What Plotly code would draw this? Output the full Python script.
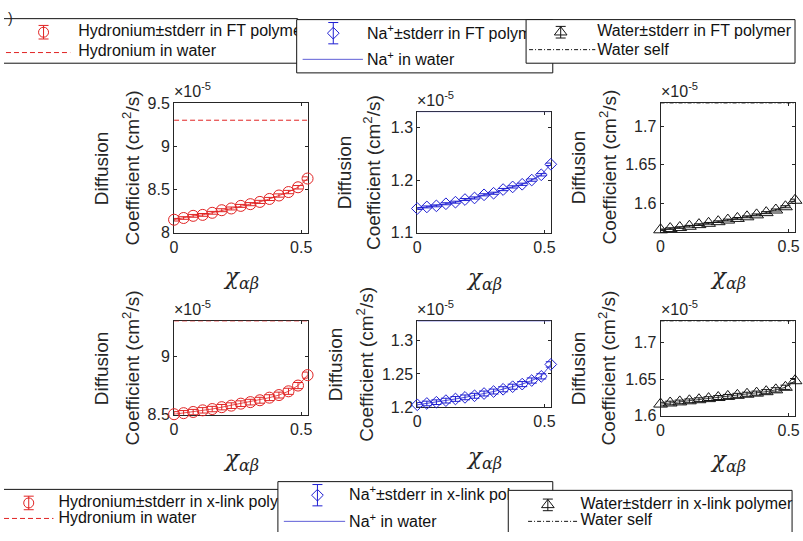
import plotly.graph_objects as go

W, H = 803, 541

# Flory-Huggins interaction parameter
chi = [0.0, 0.0375, 0.075, 0.1125, 0.15, 0.1875, 0.225, 0.2625,
       0.3, 0.3375, 0.375, 0.4125, 0.45, 0.4875, 0.525]

# Diffusion coefficients in units of 1e-5 cm^2/s
hyd_ft = [8.150, 8.170, 8.195, 8.206, 8.230, 8.260, 8.280, 8.310,
          8.330, 8.356, 8.390, 8.430, 8.470, 8.525, 8.626]
hyd_ft_err = [0.015, 0.015, 0.016, 0.016, 0.016, 0.017, 0.017, 0.017,
              0.018, 0.018, 0.018, 0.019, 0.019, 0.020, 0.020]
na_ft = [1.146, 1.149, 1.151, 1.155, 1.158, 1.163, 1.166, 1.172,
         1.175, 1.182, 1.187, 1.192, 1.200, 1.210, 1.230]
na_ft_err = [0.0018, 0.0018, 0.0018, 0.0019, 0.0019, 0.0019, 0.0020, 0.0020,
             0.0020, 0.0021, 0.0021, 0.0021, 0.0022, 0.0022, 0.0023]
water_ft = [1.5660, 1.5676, 1.5689, 1.5706, 1.5727, 1.5744, 1.5765, 1.5786,
            1.5807, 1.5828, 1.5853, 1.5882, 1.5916, 1.5958, 1.6042]
water_ft_err = [0.0010, 0.0010, 0.0010, 0.0011, 0.0011, 0.0011, 0.0011, 0.0012,
                0.0012, 0.0012, 0.0012, 0.0013, 0.0013, 0.0013, 0.0014]

hyd_xl = [8.505, 8.514, 8.524, 8.538, 8.549, 8.565, 8.578, 8.595,
          8.608, 8.624, 8.646, 8.668, 8.700, 8.749, 8.838]
hyd_xl_err = [0.022, 0.022, 0.022, 0.023, 0.023, 0.023, 0.024, 0.024,
              0.024, 0.025, 0.025, 0.025, 0.026, 0.026, 0.026]
na_xl = [1.2034, 1.2054, 1.2073, 1.2097, 1.2122, 1.2146, 1.2170, 1.2204,
         1.2234, 1.2268, 1.2307, 1.2346, 1.2400, 1.2463, 1.2643]
na_xl_err = [0.0035, 0.0035, 0.0035, 0.0036, 0.0036, 0.0036, 0.0037, 0.0037,
             0.0037, 0.0038, 0.0038, 0.0038, 0.0039, 0.0039, 0.0040]
water_xl = [1.6160, 1.6175, 1.6190, 1.6205, 1.6220, 1.6235, 1.6250, 1.6265,
            1.6280, 1.6295, 1.6310, 1.6330, 1.6355, 1.6390, 1.6480]
water_xl_err = [0.0025, 0.0025, 0.0025, 0.0026, 0.0026, 0.0026, 0.0027, 0.0027,
                0.0027, 0.0028, 0.0028, 0.0028, 0.0029, 0.0029, 0.0030]

# Reference values (bulk water)
hyd_water = 9.3
na_water = 1.33
water_self = 1.73

x_ticks = [0, 0.5]
x_tick_text = ["0", "0.5"]

RED = "rgb(225,35,35)"
BLUE = "rgb(30,30,210)"
BLUE_LIGHT = "rgb(95,95,215)"
BLACK = "rgb(20,20,20)"
AXC = "#262626"
SANS = "Liberation Sans, Arial, sans-serif"
SERIF = "DejaVu Serif, Liberation Serif, serif"

# panel layout in pixel coordinates: box (left, right), (top, bottom)
panels = [
    dict(y=hyd_ft, err=hyd_ft_err, ref=hyd_water, color=RED, symbol="circle-open", size=11,
         refdash="5px,3px", refcolor=RED, xpx=(172, 307), ypx=(98, 232), yr=[8.0, 9.5],
         yt=[8, 8.5, 9, 9.5], ytt=["8", "8.5", "9", "9.5"],
         lab=(98.5, 128), xlab=279),
    dict(y=na_ft, err=na_ft_err, ref=na_water, color=BLUE, symbol="diamond-open", size=9,
         refdash="solid", refcolor=BLUE_LIGHT, xpx=(418, 553), ypx=(107, 232), yr=[1.1, 1.33],
         yt=[1.1, 1.2, 1.3], ytt=["1.1", "1.2", "1.3"],
         lab=(344, 372), xlab=280),
    dict(y=water_ft, err=water_ft_err, ref=water_self, color=BLACK, symbol="triangle-up-open", size=12,
         refdash="4px,2px,1px,2px", refcolor=BLACK, xpx=(664, 800), ypx=(98, 231), yr=[1.5635, 1.73],
         yt=[1.6, 1.65, 1.7], ytt=["1.6", "1.65", "1.7"],
         lab=(580.5, 611), xlab=279),
    dict(y=hyd_xl, err=hyd_xl_err, ref=hyd_water, color=RED, symbol="circle-open", size=11,
         refdash="5px,3px", refcolor=RED, xpx=(172, 307), ypx=(323, 420), yr=[8.5, 9.3],
         yt=[8.5, 9], ytt=["8.5", "9"],
         lab=(98.5, 128), xlab=467),
    dict(y=na_xl, err=na_xl_err, ref=na_water, color=BLUE, symbol="diamond-open", size=9,
         refdash="solid", refcolor=BLUE_LIGHT, xpx=(418, 553), ypx=(323, 412), yr=[1.2, 1.33],
         yt=[1.2, 1.25, 1.3], ytt=["1.2", "1.25", "1.3"],
         lab=(336, 365), xlab=465),
    dict(y=water_xl, err=water_xl_err, ref=water_self, color=BLACK, symbol="triangle-up-open", size=12,
         refdash="4px,2px,1px,2px", refcolor=BLACK, xpx=(664, 800), ypx=(323, 421), yr=[1.6, 1.73],
         yt=[1.6, 1.65, 1.7], ytt=["1.6", "1.65", "1.7"],
         lab=(580.5, 610), xlab=468),
]

fig = go.Figure()
annotations = []


def px_x(v):
    return v / W


def px_y(v):
    return 1 - v / H


for i, p in enumerate(panels, start=1):
    xa = "x" if i == 1 else f"x{i}"
    ya = "y" if i == 1 else f"y{i}"
    # bulk-water reference line
    fig.add_trace(go.Scatter(
        x=[chi[0], chi[-1]], y=[p["ref"], p["ref"]], xaxis=xa, yaxis=ya, mode="lines",
        line=dict(color=p["refcolor"], width=1, dash=p["refdash"]),
        cliponaxis=False, showlegend=False, hoverinfo="skip"))
    # simulation values with standard error
    fig.add_trace(go.Scatter(
        x=chi, y=p["y"], xaxis=xa, yaxis=ya, mode="lines+markers",
        line=dict(color=p["color"], width=0.8),
        marker=dict(symbol=p["symbol"], size=p["size"], color=p["color"],
                    line=dict(width=1, color=p["color"])),
        error_y=dict(type="data", array=p["err"], visible=True, color=p["color"],
                     thickness=1, width=5),
        cliponaxis=False, showlegend=False))

    ax_common = dict(showline=True, linecolor=AXC, linewidth=1, mirror="ticks",
                     ticks="inside", ticklen=3, tickcolor=AXC, showgrid=False,
                     zeroline=False, layer="below traces",
                     tickfont=dict(family=SANS, size=16, color=AXC))
    fig.layout[f"xaxis{'' if i == 1 else i}"] = dict(
        domain=[px_x(p["xpx"][0]), px_x(p["xpx"][1])], range=[chi[0], chi[-1]],
        anchor=ya, tickmode="array", tickvals=x_ticks, ticktext=x_tick_text, **ax_common)
    fig.layout[f"yaxis{'' if i == 1 else i}"] = dict(
        domain=[px_y(p["ypx"][1]), px_y(p["ypx"][0])], range=p["yr"],
        anchor=xa, tickmode="array", tickvals=p["yt"], ticktext=p["ytt"], **ax_common)

    yc = px_y((p["ypx"][0] + p["ypx"][1]) / 2)
    xc = px_x((p["xpx"][0] + p["xpx"][1]) / 2)
    annotations.append(dict(x=px_x(p["lab"][0]), y=yc, xref="paper", yref="paper",
                            xanchor="center", yanchor="middle",
                            text="Diffusion", textangle=-90, showarrow=False,
                            font=dict(family=SANS, size=19, color=AXC)))
    annotations.append(dict(x=px_x(p["lab"][1]), y=yc, xref="paper", yref="paper",
                            xanchor="center", yanchor="middle",
                            text="Coefficient (cm<sup>2</sup>/s)", textangle=-90, showarrow=False,
                            font=dict(family=SANS, size=19, color=AXC)))
    annotations.append(dict(x=xc, y=px_y(p["xlab"]), xref="paper", yref="paper",
                            xanchor="center", yanchor="middle",
                            text="<i>χ</i><sub><i>αβ</i></sub>", showarrow=False,
                            font=dict(family=SERIF, size=23, color=AXC)))
    annotations.append(dict(x=px_x(p["xpx"][0] - 2), y=px_y(p["ypx"][0] - 1), xref="paper",
                            yref="paper", xanchor="left", yanchor="bottom",
                            text="×10<sup>-5</sup>", showarrow=False,
                            font=dict(family=SANS, size=16, color=AXC)))

# closing bracket of the panel tag at the top-left corner
annotations.append(dict(x=px_x(2), y=1.0, xref="paper", yref="paper",
                        xanchor="left", yanchor="top", text=")", showarrow=False,
                        font=dict(family=SANS, size=14, color=AXC)))

# ---- legend boxes, drawn on a full-page pixel overlay so later boxes cover earlier ones ----
LX, LY = "x7", "y7"
fig.layout["xaxis7"] = dict(domain=[0, 1], range=[0, W], visible=False, fixedrange=True, anchor="y7")
fig.layout["yaxis7"] = dict(domain=[0, 1], range=[H, 0], visible=False, fixedrange=True, anchor="x7")

legends = [
    dict(box=(-5, 297, 11, 57), glyph=(40, 25), gsym="circle-open", gsize=10, gerr=7, gcol=RED,
         t1=(75, 25, "Hydronium±stderr in FT polymer"),
         line=(2, 67, 46), ldash="5px,3px", lcol=RED, t2=(75, 45, "Hydronium in water")),
    dict(box=(296, 555, 12, 67), glyph=(333, 26), gsize=9, gsym="diamond-open", gerr=11, gcol=BLUE,
         t1=(367, 28, "Na<sup>+</sup>±stderr in FT polymer"),
         line=(302, 363, 53), ldash="solid", lcol=BLUE_LIGHT, t2=(367, 55, "Na<sup>+</sup> in water")),
    dict(box=(528, 800, 12, 57), glyph=(563, 25), gsym="triangle-up-open", gsize=11, gerr=6, gcol=BLACK,
         t1=(600, 25, "Water±stderr in FT polymer"),
         line=(531, 598, 43), ldash="4px,2px,1px,2px", lcol=BLACK, t2=(600, 44, "Water self")),
    dict(box=(-5, 290, 497, 560), glyph=(25, 511), gsym="circle-open", gsize=10, gerr=7, gcol=RED,
         t1=(55, 511, "Hydronium±stderr in x-link polymer"),
         line=(0, 50, 527), ldash="5px,3px", lcol=RED, t2=(55, 528, "Hydronium in water")),
    dict(box=(277, 555, 489, 560), glyph=(317, 503), gsym="diamond-open", gsize=9, gerr=11, gcol=BLUE,
         t1=(349, 504, "Na<sup>+</sup>±stderr in x-link polymer"),
         line=(283, 345, 530), ldash="solid", lcol=BLUE_LIGHT, t2=(349, 532, "Na<sup>+</sup> in water")),
    dict(box=(510, 797, 498, 560), glyph=(550, 513), gsym="triangle-up-open", gsize=11, gerr=6, gcol=BLACK,
         t1=(583, 513, "Water±stderr in x-link polymer"),
         line=(530, 580, 530), ldash="4px,2px,1px,2px", lcol=BLACK, t2=(583, 530, "Water self")),
]

for lg in legends:
    x0, x1, y0, y1 = lg["box"]
    fig.add_trace(go.Scatter(x=[x0, x1, x1, x0, x0], y=[y0, y0, y1, y1, y0], xaxis=LX, yaxis=LY,
                             mode="lines", fill="toself", fillcolor="white",
                             line=dict(color=BLACK, width=1), showlegend=False, hoverinfo="skip"))
    fig.add_trace(go.Scatter(x=[lg["t1"][0], lg["t2"][0]], y=[lg["t1"][1], lg["t2"][1]],
                             text=[lg["t1"][2], lg["t2"][2]], xaxis=LX, yaxis=LY, mode="text",
                             textposition="middle right",
                             textfont=dict(family=SANS, size=16, color="#111"),
                             showlegend=False, hoverinfo="skip"))
    fig.add_trace(go.Scatter(x=[lg["line"][0], lg["line"][1]], y=[lg["line"][2]] * 2,
                             xaxis=LX, yaxis=LY, mode="lines",
                             line=dict(color=lg["lcol"], width=1, dash=lg["ldash"]),
                             showlegend=False, hoverinfo="skip"))
    fig.add_trace(go.Scatter(x=[lg["glyph"][0]], y=[lg["glyph"][1]], xaxis=LX, yaxis=LY,
                             mode="markers",
                             marker=dict(symbol=lg["gsym"], size=lg["gsize"], color=lg["gcol"],
                                         line=dict(width=1, color=lg["gcol"])),
                             error_y=dict(type="constant", value=lg["gerr"], color=lg["gcol"],
                                          thickness=1, width=5),
                             showlegend=False, hoverinfo="skip"))

fig.update_layout(width=W, height=H, margin=dict(l=0, r=0, t=0, b=0),
                  paper_bgcolor="white", plot_bgcolor="rgba(0,0,0,0)",
                  showlegend=False, annotations=annotations)

fig.write_html("out.html")
